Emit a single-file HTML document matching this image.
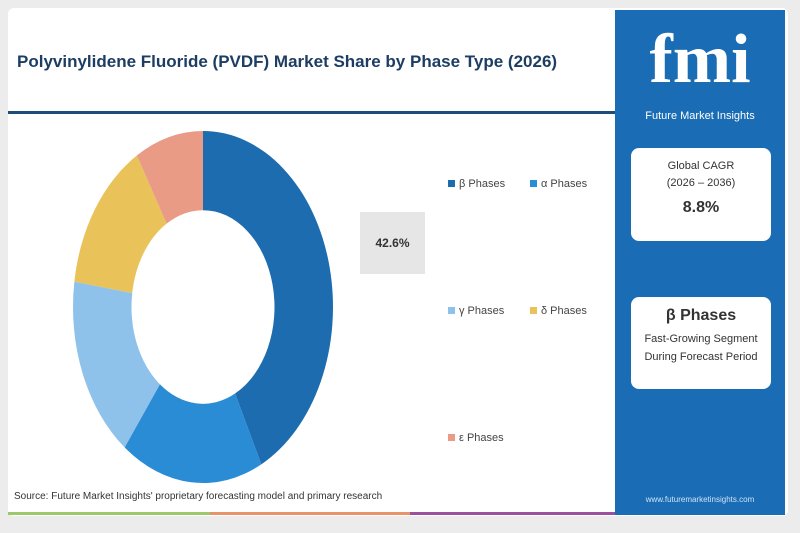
<!DOCTYPE html>
<html><head><meta charset="utf-8"><style>
body{margin:0;width:800px;height:533px;background:#ececec;font-family:"Liberation Sans",sans-serif;position:relative;overflow:hidden}
.card{position:absolute;left:8px;top:8px;width:780px;height:508px;background:#fff;border-radius:6px}
.title{position:absolute;left:17px;top:52px;font-size:17px;font-weight:bold;color:#1d3d63}
.rule{position:absolute;left:8px;top:111px;width:607px;height:3px;background:#1f4d7a}
.side{position:absolute;left:615px;top:10px;width:170px;height:505px;background:#1a6cb4}
.box{position:absolute;background:#fff;border-radius:8px;text-align:center;color:#333}
.leg{position:absolute;font-size:11px;color:#444}
.leg i{display:inline-block;width:7px;height:7px;margin-right:4px}
</style></head><body>
<div class="card"></div>
<div class="title">Polyvinylidene Fluoride (PVDF) Market Share by Phase Type (2026)</div>
<div class="rule"></div>
<svg id="chart" width="800" height="533" style="position:absolute;left:0;top:0"></svg>
<div style="position:absolute;left:360px;top:212px;width:65px;height:62px;background:#e6e6e6;font-size:12px;font-weight:bold;color:#333;text-align:center;line-height:62px">42.6%</div>
<div class="leg" style="left:448px;top:178px"><i style="background:#1d6cb0"></i>β Phases</div>
<div class="leg" style="left:530px;top:178px"><i style="background:#2b8cd6"></i>α Phases</div>
<div class="leg" style="left:448px;top:305px"><i style="background:#8fc2ea"></i>γ Phases</div>
<div class="leg" style="left:530px;top:305px"><i style="background:#e9c35a"></i>δ Phases</div>
<div class="leg" style="left:448px;top:432px"><i style="background:#ea9b86"></i>ε Phases</div>
<div style="position:absolute;left:14px;top:491px;font-size:10px;color:#333">Source: Future Market Insights' proprietary forecasting model and primary research</div>
<div style="position:absolute;left:8px;top:512px;width:202px;height:3px;background:#9cc96b"></div>
<div style="position:absolute;left:210px;top:512px;width:200px;height:3px;background:#e8946a"></div>
<div style="position:absolute;left:410px;top:512px;width:205px;height:3px;background:#9b4f9c"></div>
<div class="side">
<div style="position:absolute;left:0;width:170px;top:12px;text-align:center;color:#fff;font-family:'Liberation Serif',serif;font-size:70px;font-weight:bold;line-height:76px">fmi</div>
<div style="position:absolute;left:0;width:170px;top:100px;text-align:center;color:#fff;font-size:11px">Future Market Insights</div>
<div class="box" style="left:16px;top:138px;width:140px;height:93px">
<div style="font-size:11px;margin-top:12px">Global CAGR</div>
<div style="font-size:11px;margin-top:5px">(2026 – 2036)</div>
<div style="font-size:16px;font-weight:bold;margin-top:10px">8.8%</div></div>
<div class="box" style="left:16px;top:287px;width:140px;height:92px">
<div style="font-size:16px;font-weight:bold;margin-top:10px">β Phases</div>
<div style="font-size:11px;margin-top:8px">Fast-Growing Segment</div>
<div style="font-size:11px;margin-top:6px">During Forecast Period</div></div>
<div style="position:absolute;left:0;width:170px;top:485px;text-align:center;color:#cfe3f7;font-size:8px">www.futuremarketinsights.com</div>
</div>
<script>
const categories=["β Phases","α Phases","γ Phases","δ Phases","ε Phases"];
const values=[42.6,17.7,17,14.2,8.5];
const colors=["#1d6cb0","#2b8cd6","#8fc2ea","#e9c35a","#ea9b86"];
const svg=document.getElementById('chart');
const cx=203,cy=307,R=130,r=71.5,sy=1.354;
const total=values.reduce((a,b)=>a+b,0);
function pt(a,rad){return [cx+rad*Math.sin(a),cy-rad*sy*Math.cos(a)];}
let start=0;
values.forEach((v,i)=>{
 const end=start+v/total*2*Math.PI;
 const [x1,y1]=pt(start,R),[x2,y2]=pt(end,R),[x3,y3]=pt(end,r),[x4,y4]=pt(start,r);
 const lg=(end-start)>Math.PI?1:0;
 const p=document.createElementNS('http://www.w3.org/2000/svg','path');
 p.setAttribute('d',`M${x1},${y1}A${R},${R*sy} 0 ${lg} 1 ${x2},${y2}L${x3},${y3}A${r},${r*sy} 0 ${lg} 0 ${x4},${y4}Z`);
 p.setAttribute('fill',colors[i]);
 
 
 svg.appendChild(p);
 start=end;
});
</script>
</body></html>
